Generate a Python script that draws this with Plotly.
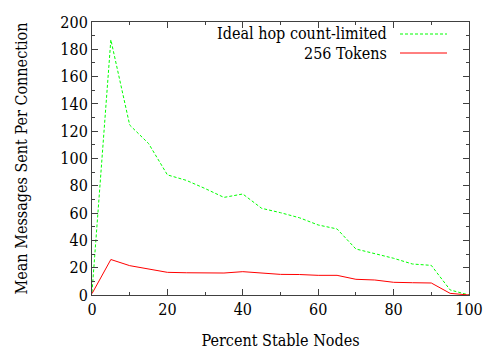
import plotly.graph_objects as go

# Percent of stable nodes in the network
stable_pct = [0, 1, 5, 10, 15, 20, 25, 30, 35, 40, 45, 50, 55, 60, 65, 70, 75, 80, 85, 90, 95, 100]

# Mean messages sent per connection for each scheme
ideal_hop = [2, 38, 187, 124.5, 111, 88, 84, 78, 71.5, 74, 63.5, 60.3, 56.6, 51.3, 48.4,
             33.7, 30.5, 26.9, 22.7, 21.7, 3.7, 0]
tokens_256 = [1, 6, 26, 21.5, 18.8, 16.6, 16.3, 16.3, 16.1, 17.1, 16, 15.1, 15, 14.4, 14.4,
              11.5, 11, 9.3, 9.0, 8.8, 1.2, 0]

series_names = ["Ideal hop count-limited", "256 Tokens"]

GREEN = "#00ff00"
RED = "#ff0000"
FONT = "DejaVu Serif Condensed"
SIZE = 16

fig = go.Figure()
fig.add_trace(go.Scatter(x=stable_pct, y=ideal_hop, mode="lines", name=series_names[0],
                         line=dict(color=GREEN, width=1, dash="3px,2px")))
fig.add_trace(go.Scatter(x=stable_pct, y=tokens_256, mode="lines", name=series_names[1],
                         line=dict(color=RED, width=1)))

axis_common = dict(
    showgrid=False, zeroline=False, showline=True, linecolor="#404040", linewidth=1,
    mirror="allticks", ticks="inside", ticklen=6, tickcolor="#404040",
    tickfont=dict(family=FONT, size=SIZE, color="black"),
    minor=dict(ticks="inside", ticklen=3, dtick=10, tickcolor="#404040"),
    automargin=False,
)

fig.update_xaxes(range=[0, 100], dtick=20, tick0=0, **axis_common,
                 title=dict(text="Percent Stable Nodes", font=dict(family=FONT, size=SIZE, color="black"),
                            standoff=18))
fig.update_yaxes(range=[0, 200], dtick=20, tick0=0, **axis_common,
                 title=dict(text="Mean Messages Sent Per Connection",
                            font=dict(family=FONT, size=SIZE, color="black"), standoff=28))

# Legend drawn gnuplot-style: right-aligned labels with line samples to their right
legend_rows = [(series_names[0], GREEN, "3px,2px", 34), (series_names[1], RED, "solid", 53)]
shapes = []
annotations = []
for name, color, dash, ypx in legend_rows:
    yp = 1 - (ypx - 22) / 273
    annotations.append(dict(text=name, xref="paper", yref="paper", x=(389 - 92) / 377, y=yp,
                            xanchor="right", yanchor="middle", showarrow=False,
                            font=dict(family=FONT, size=SIZE, color="black")))
    shapes.append(dict(type="line", xref="paper", yref="paper",
                       x0=(400 - 92) / 377, x1=(447 - 92) / 377, y0=yp, y1=yp,
                       line=dict(color=color, width=1, dash=dash)))

fig.update_layout(
    width=500, height=350,
    margin=dict(l=92, r=31, t=22, b=55),
    paper_bgcolor="white", plot_bgcolor="white",
    showlegend=False,
    shapes=shapes, annotations=annotations,
)

fig.write_html("out.html")
